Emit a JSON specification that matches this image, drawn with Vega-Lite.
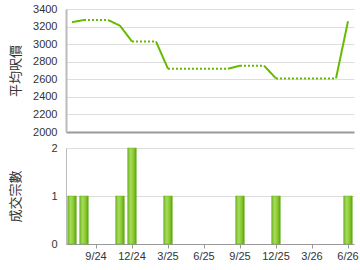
{
  "$schema": "https://vega.github.io/schema/vega-lite/v6.json",
  "padding": {"left": 8, "top": 3, "right": 2, "bottom": 2},
  "spacing": 5,
  "background": "white",
  "config": {
    "view": {"stroke": null},
    "axis": {
      "labelFont": "Liberation Sans",
      "labelFontSize": 11,
      "labelColor": "#333333",
      "titleFont": "Noto Sans CJK TC",
      "titleFontSize": 13,
      "titleFontWeight": "normal",
      "titleColor": "#333333",
      "gridColor": "#dddddd",
      "domainColor": "#999999",
      "tickColor": "#999999"
    }
  },
  "datasets": {
    "price": [
      {"m": "7/24", "v": 3250, "seg": "a", "s": "solid"},
      {"m": "8/24", "v": 3275, "seg": "a", "s": "solid"},
      {"m": "8/24", "v": 3275, "seg": "b", "s": "dotted"},
      {"m": "10/24", "v": 3275, "seg": "b", "s": "dotted"},
      {"m": "10/24", "v": 3275, "seg": "c", "s": "solid"},
      {"m": "11/24", "v": 3210, "seg": "c", "s": "solid"},
      {"m": "12/24", "v": 3030, "seg": "c", "s": "solid"},
      {"m": "12/24", "v": 3030, "seg": "d", "s": "dotted"},
      {"m": "2/25", "v": 3030, "seg": "d", "s": "dotted"},
      {"m": "2/25", "v": 3030, "seg": "e", "s": "solid"},
      {"m": "3/25", "v": 2720, "seg": "e", "s": "solid"},
      {"m": "3/25", "v": 2720, "seg": "f", "s": "dotted"},
      {"m": "8/25", "v": 2720, "seg": "f", "s": "dotted"},
      {"m": "8/25", "v": 2720, "seg": "g", "s": "solid"},
      {"m": "9/25", "v": 2755, "seg": "g", "s": "solid"},
      {"m": "9/25", "v": 2755, "seg": "h", "s": "dotted"},
      {"m": "11/25", "v": 2755, "seg": "h", "s": "dotted"},
      {"m": "11/25", "v": 2755, "seg": "i", "s": "solid"},
      {"m": "12/25", "v": 2610, "seg": "i", "s": "solid"},
      {"m": "12/25", "v": 2610, "seg": "j", "s": "dotted"},
      {"m": "5/26", "v": 2610, "seg": "j", "s": "dotted"},
      {"m": "5/26", "v": 2610, "seg": "k", "s": "solid"},
      {"m": "6/26", "v": 3260, "seg": "k", "s": "solid"}
    ],
    "deals": [
      {"m": "7/24", "n": 1},
      {"m": "8/24", "n": 1},
      {"m": "11/24", "n": 1},
      {"m": "12/24", "n": 2},
      {"m": "3/25", "n": 1},
      {"m": "9/25", "n": 1},
      {"m": "12/25", "n": 1},
      {"m": "6/26", "n": 1}
    ]
  },
  "vconcat": [
    {
      "width": 288,
      "height": 123,
      "data": {"name": "price"},
      "mark": {"type": "line", "color": "#66bb00", "strokeWidth": 2},
      "encoding": {
        "x": {
          "field": "m", "type": "ordinal",
          "scale": {"type": "band", "paddingInner": 0.28, "paddingOuter": 0.14,
            "domain": ["7/24","8/24","9/24","10/24","11/24","12/24","1/25","2/25","3/25","4/25","5/25","6/25","7/25","8/25","9/25","10/25","11/25","12/25","1/26","2/26","3/26","4/26","5/26","6/26"]},
          "axis": {"title": null, "labels": false, "ticks": false, "bandPosition": 0.5,
            "values": ["9/24","12/24","3/25","6/25","9/25","12/25","3/26","6/26"],
            "domainWidth": 2, "domainColor": "#999999"}
        },
        "y": {
          "field": "v", "type": "quantitative",
          "scale": {"domain": [2000, 3400], "nice": false},
          "axis": {"title": "平均呎價", "values": [2000,2200,2400,2600,2800,3000,3200,3400],
            "format": "d",
            "ticks": false, "labelPadding": 9, "titleX": -44, "domainWidth": 2, "domainColor": "#bbbbbb"}
        },
        "detail": {"field": "seg"},
        "strokeDash": {
          "field": "s", "type": "nominal",
          "scale": {"domain": ["solid", "dotted"], "range": [[1, 0], [2, 2]]},
          "legend": null
        }
      }
    },
    {
      "width": 288,
      "height": 96,
      "data": {"name": "deals"},
      "mark": {
        "type": "bar",
        "stroke": "#6ab02a",
        "strokeWidth": 0.5,
        "color": {
          "gradient": "linear", "x1": 0, "y1": 0, "x2": 1, "y2": 0,
          "stops": [
            {"offset": 0, "color": "#6cb61e"},
            {"offset": 0.3, "color": "#a6da5c"},
            {"offset": 0.65, "color": "#8ccc38"},
            {"offset": 1, "color": "#5aa400"}
          ]
        }
      },
      "encoding": {
        "x": {
          "field": "m", "type": "ordinal",
          "scale": {"type": "band", "paddingInner": 0.28, "paddingOuter": 0.14,
            "domain": ["7/24","8/24","9/24","10/24","11/24","12/24","1/25","2/25","3/25","4/25","5/25","6/25","7/25","8/25","9/25","10/25","11/25","12/25","1/26","2/26","3/26","4/26","5/26","6/26"]},
          "axis": {"title": null, "labelAngle": 0, "bandPosition": 0.5, "tickSize": 4,
            "values": ["9/24","12/24","3/25","6/25","9/25","12/25","3/26","6/26"],
            "labelPadding": 2}
        },
        "y": {
          "field": "n", "type": "quantitative",
          "scale": {"domain": [0, 2], "nice": false},
          "axis": {"title": "成交宗數", "values": [0, 1, 2], "format": ".0f", "labelOverlap": false, "ticks": false, "labelPadding": 9,
            "titleX": -44, "domainColor": "#bbbbbb"}
        }
      }
    }
  ]
}
